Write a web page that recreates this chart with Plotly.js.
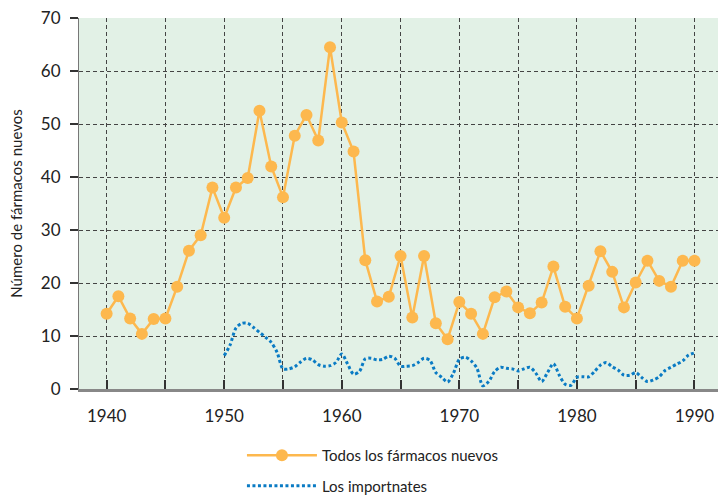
<!DOCTYPE html>
<html>
<head>
<meta charset="utf-8">
<script src="https://cdn.plot.ly/plotly-3.0.1.min.js"></script>
<style>html,body{margin:0;padding:0;background:#fff;}#chart{width:718px;height:495px;}</style>
</head>
<body>
<div id="chart"></div>
<script>
// All new drugs (annual)
const allYears = [1940,1941,1942,1943,1944,1945,1946,1947,1948,1949,1950,1951,1952,1953,1954,1955,1956,1957,1958,1959,1960,1961,1962,1963,1964,1965,1966,1967,1968,1969,1970,1971,1972,1973,1974,1975,1976,1977,1978,1979,1980,1981,1982,1983,1984,1985,1986,1987,1988,1989,1990];
const allDrugs = [14.2,17.5,13.3,10.4,13.2,13.3,19.3,26.1,29,38,32.3,38,39.8,52.5,42,36.2,47.8,51.7,46.9,64.5,50.3,44.8,24.3,16.5,17.4,25.1,13.5,25.1,12.4,9.4,16.4,14.2,10.4,17.3,18.4,15.4,14.3,16.3,23.1,15.5,13.3,19.5,26,22.1,15.4,20.1,24.2,20.4,19.3,24.2,24.2];

// Important drugs (read at half-year steps)
const impYears = [1950,1950.5,1951,1951.5,1952,1952.5,1953,1953.5,1954,1954.5,1955,1955.5,1956,1956.5,1957,1957.5,1958,1958.5,1959,1959.5,1960,1960.5,1961,1961.5,1962,1962.5,1963,1963.5,1964,1964.5,1965,1965.5,1966,1966.5,1967,1967.5,1968,1968.5,1969,1969.5,1970,1970.5,1971,1971.5,1972,1972.5,1973,1973.5,1974,1974.5,1975,1975.5,1976,1976.5,1977,1977.5,1978,1978.5,1979,1979.5,1980,1980.5,1981,1981.5,1982,1982.5,1983,1983.5,1984,1984.5,1985,1985.5,1986,1986.5,1987,1987.5,1988,1988.5,1989,1989.5,1990];
const impDrugs = [6.3,8.3,11.5,12.4,12.4,11.6,10.7,9.8,8.8,6.9,3.8,3.8,4.2,5.1,5.8,5.5,4.6,4.3,4.4,5.0,6.6,4.7,2.8,3.3,5.7,5.8,5.5,5.6,6.2,5.8,4.3,4.3,4.4,5.0,5.8,5.4,3.1,2.2,1.3,3.0,5.6,6.0,5.3,3.9,0.6,1.4,3.3,4.1,3.9,3.8,3.4,3.8,4.1,3.0,1.4,3.1,4.8,2.6,0.9,0.7,2.2,2.3,2.3,3.3,4.5,5.0,4.2,3.6,2.6,2.6,3.1,2.2,1.4,1.7,2.3,3.5,4.1,4.7,5.3,6.4,6.8];

const seriesNames = ['Todos los fármacos nuevos','Los importnates'];
const xTickVals = [1940,1945,1950,1955,1960,1965,1970,1975,1980,1985,1990];
const xTickText = ['1940','','1950','','1960','','1970','','1980','','1990'];
const yTickVals = [0,10,20,30,40,50,60,70];
const yTickText = ['0','10','20','30','40','50','60','70'];
const yTitle = 'Número de fármacos nuevos';

const font = 'Lato, "Open Sans", sans-serif';

const traces = [
  {
    x: allYears, y: allDrugs, name: seriesNames[0], type: 'scatter', mode: 'lines+markers',
    line: {color: '#fdb84e', width: 2.5},
    marker: {color: '#fdb84e', size: 12},
    legendgroup: 'a'
  },
  {
    x: impYears, y: impDrugs, name: seriesNames[1], type: 'scatter', mode: 'lines',
    line: {color: '#0a7bc4', width: 3, dash: '3px,2.5px', shape: 'spline', smoothing: 0.8},
    legendgroup: 'b'
  }
];

const layout = {
  width: 718, height: 495,
  margin: {l: 79, r: 0, t: 18, b: 106, autoexpand: false},
  paper_bgcolor: '#ffffff',
  plot_bgcolor: '#e2f1e6',
  font: {family: font, color: '#222', size: 16},
  showlegend: true,
  legend: {
    x: 0.255, y: -0.135, xanchor: 'left', yanchor: 'top',
    orientation: 'v', traceorder: 'grouped', tracegroupgap: 8,
    font: {family: font, size: 15, color: '#222'},
    itemwidth: 70, bgcolor: 'rgba(0,0,0,0)'
  },
  xaxis: {
    range: [1937.65, 1992], automargin: false,
    tickmode: 'array', tickvals: xTickVals, ticktext: xTickText,
    ticks: 'inside', ticklen: 9, tickwidth: 2, tickcolor: '#333',
    showgrid: true, gridcolor: '#444', griddash: '4px,3px', gridwidth: 1,
    showline: true, linecolor: '#888', linewidth: 3,
    zeroline: false, ticklabelstandoff: 10,
    tickfont: {family: font, size: 17, color: '#222'}
  },
  yaxis: {
    range: [0, 70], automargin: false,
    tickmode: 'array', tickvals: yTickVals, ticktext: yTickText,
    ticks: 'outside', ticklen: 8, tickwidth: 1.5, tickcolor: '#333',
    showgrid: true, gridcolor: '#444', griddash: '4px,3px', gridwidth: 1,
    showline: true, linecolor: '#777', linewidth: 1,
    zeroline: false, ticklabelstandoff: 6,
    tickfont: {family: font, size: 17, color: '#222'},
    title: {text: yTitle, font: {family: font, size: 15, color: '#222'}, standoff: 14}
  }
};

Plotly.newPlot('chart', traces, layout, {displayModeBar: false, staticPlot: true});
</script>
</body>
</html>
